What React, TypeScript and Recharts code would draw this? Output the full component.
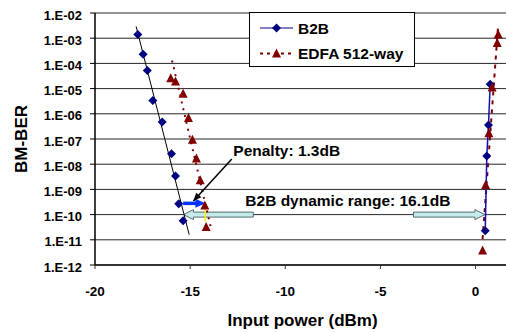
import { CartesianGrid, Line, LineChart, ReferenceLine, XAxis, YAxis } from "recharts";

const X_TICKS = [-20, -15, -10, -5, 0];
const Y_TICKS = [-12, -11, -10, -9, -8, -7, -6, -5, -4, -3, -2];

// measured points, input power (dBm) / BER
const B2B_LOW_POWER = [-17.75, -17.47, -17.25, -16.96, -16.47, -15.98, -15.77, -15.6, -15.37];
const B2B_LOW_BER = [1.4e-3, 2.3e-4, 5.2e-5, 3.4e-6, 4.7e-7, 2.6e-8, 3.4e-9, 2.7e-10, 5.7e-11];
const B2B_HIGH_POWER = [0.51, 0.59, 0.68, 0.77];
const B2B_HIGH_BER = [2.3e-11, 2.1e-8, 3.6e-7, 1.5e-5];
const EDFA_LOW_POWER = [-16.02, -15.77, -15.37, -15.09, -14.88, -14.67, -14.47, -14.23, -14.16];
const EDFA_LOW_BER = [2.6e-5, 1.9e-5, 6.2e-6, 6.8e-7, 9.3e-8, 1.7e-8, 2.3e-9, 2.3e-10, 3.2e-11];
const EDFA_HIGH_POWER = [0.37, 0.53, 0.7, 0.87, 1.14, 1.19];
const EDFA_HIGH_BER = [3.8e-12, 1.5e-9, 1.7e-7, 1.1e-5, 6.5e-4, 1.4e-3];

// trend lines
const B2B_FIT_POWER = [-17.84, -15.05];
const B2B_FIT_BER = [2.95e-3, 1.6e-11];
const EDFA_LOW_FIT_POWER = [-15.95, -13.9];
const EDFA_LOW_FIT_BER = [1.3e-4, 2.8e-11];
const EDFA_HIGH_FIT_POWER = [0.37, 1.19];
const EDFA_HIGH_FIT_BER = [1.07e-11, 3.5e-3];

// annotations
const PENALTY_TEXT = "Penalty: 1.3dB";
const PENALTY_ARROW_POWER = [-15.37, -14.2];
const PENALTY_ARROW_BER = 2.8e-10;
const POINTER_POWER = [-12.81, -14.83];
const POINTER_BER = [1.6e-8, 3.5e-10];
const MARK_POWER = -14.2;
const MARK_BER = [1.9e-10, 5.2e-11];
const RANGE_TEXT = "B2B dynamic range: 16.1dB";
const RANGE_BER = 1e-10;
const RANGE_LEFT_POWER = [-11.68, -15.35];
const RANGE_RIGHT_POWER = [-3.26, 0.49];
const RANGE_TEXT_POWER = -12.1;

const SERIES_NAMES = ["B2B", "EDFA 512-way"];

const NAVY = "#000080";
const MAROON = "#800000";
const FONT = "'Liberation Sans', Arial, sans-serif";

const toPoints = (xs: number[], bers: number[]) =>
  xs.map((x, i) => ({ x, y: Math.log10(bers[i]) }));

const b2bLow = toPoints(B2B_LOW_POWER, B2B_LOW_BER);
const b2bHigh = toPoints(B2B_HIGH_POWER, B2B_HIGH_BER);
const edfaLow = toPoints(EDFA_LOW_POWER, EDFA_LOW_BER);
const edfaHigh = toPoints(EDFA_HIGH_POWER, EDFA_HIGH_BER);
const b2bFit = toPoints(B2B_FIT_POWER, B2B_FIT_BER);
const edfaLowFit = toPoints(EDFA_LOW_FIT_POWER, EDFA_LOW_FIT_BER);
const edfaHighFit = toPoints(EDFA_HIGH_FIT_POWER, EDFA_HIGH_FIT_BER);

const lg = Math.log10;

function Diamond(props: any) {
  const { cx, cy, index } = props;
  if (cx == null || cy == null) return <g key={index} />;
  const r = 4.5;
  return (
    <path
      key={index}
      d={`M${cx},${cy - r}L${cx + r},${cy}L${cx},${cy + r}L${cx - r},${cy}Z`}
      fill={NAVY}
    />
  );
}

function Triangle(props: any) {
  const { cx, cy, index } = props;
  if (cx == null || cy == null) return <g key={index} />;
  return (
    <path
      key={index}
      d={`M${cx},${cy - 5}L${cx + 4.5},${cy + 4}L${cx - 4.5},${cy + 4}Z`}
      fill={MAROON}
    />
  );
}

function arrowHead(x1: number, y1: number, x2: number, y2: number, len: number, half: number) {
  const a = Math.atan2(y2 - y1, x2 - x1);
  const bx = x2 - len * Math.cos(a);
  const by = y2 - len * Math.sin(a);
  const px = -Math.sin(a) * half;
  const py = Math.cos(a) * half;
  return `${x2},${y2} ${bx + px},${by + py} ${bx - px},${by - py}`;
}

// block arrow from (x1,y) pointing to (x2,y)
function blockArrow(x1: number, x2: number, y: number) {
  const dir = Math.sign(x2 - x1);
  const head = 10;
  const hx = x2 - dir * head;
  const s = 2.5;
  const h = 5;
  return `${x1},${y - s} ${hx},${y - s} ${hx},${y - h} ${x2},${y} ${hx},${y + h} ${hx},${y + s} ${x1},${y + s}`;
}

const PenaltyArrow = (p: any) => (
  <g>
    <line x1={p.x1} y1={p.y1} x2={p.x2 - 8} y2={p.y2} stroke="#0033ff" strokeWidth={3.5} />
    <polygon points={arrowHead(p.x1, p.y1, p.x2, p.y2, 10, 4.5)} fill="#0033ff" />
  </g>
);

const Pointer = (p: any) => (
  <g>
    <text x={p.x1 + 1.5} y={p.y1 - 2.6} fontFamily={FONT} fontWeight="bold" fontSize={15.5} fill="#000">
      {PENALTY_TEXT}
    </text>
    <line x1={p.x1} y1={p.y1} x2={p.x2} y2={p.y2} stroke="#000" strokeWidth={1.5} />
    <polygon points={arrowHead(p.x1, p.y1, p.x2, p.y2, 8, 3.5)} fill="#000" />
  </g>
);

const RangeArrow = (p: any) => (
  <polygon points={blockArrow(p.x1, p.x2, p.y1)} fill="#c4ecec" stroke="#5a6a6a" strokeWidth={1} />
);

const RangeText = (p: any) => (
  <text x={p.x1} y={p.y1 - 8.5} fontFamily={FONT} fontWeight="bold" fontSize={15.5} fill="#000">
    {RANGE_TEXT}
  </text>
);

const YTick = (p: any) => (
  <text x={p.x} y={p.y + 2} textAnchor="end" dominantBaseline="central" fontFamily={FONT} fontWeight="bold" fontSize={13} fill="#000">
    {`1.E-${String(-p.payload.value).padStart(2, "0")}`}
  </text>
);

const XTick = (p: any) => (
  <text x={p.x} y={p.y + 25} textAnchor="middle" fontFamily={FONT} fontWeight="bold" fontSize={13.5} fill="#000">
    {p.payload.value}
  </text>
);

function LegendBox() {
  return (
    <svg width={166} height={55} style={{ position: "absolute", left: 249, top: 12 }}>
      <rect x={0.5} y={0.5} width={165} height={54} fill="#fff" stroke="#000" />
      <line x1={11} x2={44} y1={16} y2={16} stroke={NAVY} />
      <Diamond cx={27.5} cy={16} index={0} />
      <text x={49} y={21.5} fontFamily={FONT} fontWeight="bold" fontSize={15.5}>{SERIES_NAMES[0]}</text>
      <line x1={11} x2={44} y1={41.5} y2={41.5} stroke={MAROON} strokeWidth={2} strokeDasharray="3 4" />
      <Triangle cx={27.5} cy={41.5} index={1} />
      <text x={49} y={47} fontFamily={FONT} fontWeight="bold" fontSize={15.5}>{SERIES_NAMES[1]}</text>
    </svg>
  );
}

export default function App() {
  return (
    <div style={{ position: "absolute", left: 0, top: 0, width: 506, height: 332, background: "#fff" }}>
      <LineChart width={506} height={332} margin={{ top: 13, right: 0, bottom: 0, left: 0 }}>
        <CartesianGrid vertical={false} stroke="#000" strokeOpacity={0.85} />
        <XAxis
          type="number"
          dataKey="x"
          domain={[-20, 1.6]}
          ticks={X_TICKS}
          allowDataOverflow
          height={67}
          tickSize={4}
          tickMargin={2}
          tick={<XTick />}
          axisLine={{ stroke: "#333", strokeWidth: 2 }}
          tickLine={{ stroke: "#333" }}
          label={{
            value: "Input power (dBm)",
            content: ({ viewBox }: any) => (
              <text x={viewBox.x + viewBox.width / 2 + 2} y={viewBox.y + 61} textAnchor="middle" fontFamily={FONT} fontWeight="bold" fontSize={17}>
                Input power (dBm)
              </text>
            ),
          }}
        />
        <YAxis
          type="number"
          dataKey="y"
          domain={[-12, -2]}
          ticks={Y_TICKS}
          allowDataOverflow
          width={95}
          tickSize={5}
          tickMargin={8}
          tick={<YTick />}
          axisLine={{ stroke: "#000", strokeWidth: 1.5 }}
          tickLine={{ stroke: "#000" }}
          label={{
            value: "BM-BER",
            content: ({ viewBox }: any) => (
              <text
                x={21}
                y={viewBox.y + viewBox.height / 2}
                transform={`rotate(-90 21 ${viewBox.y + viewBox.height / 2})`}
                textAnchor="middle"
                dominantBaseline="central"
                fontFamily={FONT}
                fontWeight="bold"
                fontSize={17}
              >
                BM-BER
              </text>
            ),
          }}
        />

        <ReferenceLine
          segment={[{ x: RANGE_LEFT_POWER[0], y: lg(RANGE_BER) }, { x: RANGE_LEFT_POWER[1], y: lg(RANGE_BER) }]}
          shape={RangeArrow}
        />
        <ReferenceLine
          segment={[{ x: RANGE_RIGHT_POWER[0], y: lg(RANGE_BER) }, { x: RANGE_RIGHT_POWER[1], y: lg(RANGE_BER) }]}
          shape={RangeArrow}
        />
        <ReferenceLine
          segment={[{ x: RANGE_TEXT_POWER, y: lg(RANGE_BER) }, { x: RANGE_TEXT_POWER + 1, y: lg(RANGE_BER) }]}
          shape={RangeText}
        />
        <ReferenceLine
          segment={[{ x: MARK_POWER, y: lg(MARK_BER[0]) }, { x: MARK_POWER, y: lg(MARK_BER[1]) }]}
          stroke="#ffee00"
          strokeWidth={1.5}
        />

        <Line data={b2bFit} dataKey="y" stroke="#000" strokeWidth={1} dot={false} activeDot={false} isAnimationActive={false} />
        <Line data={edfaLowFit} dataKey="y" stroke={MAROON} strokeWidth={2} strokeDasharray="2 5" dot={false} activeDot={false} isAnimationActive={false} />
        <Line data={edfaHighFit} dataKey="y" stroke={MAROON} strokeWidth={2} strokeDasharray="4 5" dot={false} activeDot={false} isAnimationActive={false} />
        <Line data={b2bHigh} dataKey="y" stroke="#1010b0" strokeWidth={1.5} dot={<Diamond />} activeDot={false} isAnimationActive={false} />
        <Line data={b2bLow} dataKey="y" stroke="none" dot={<Diamond />} activeDot={false} isAnimationActive={false} />
        <Line data={edfaLow} dataKey="y" stroke="none" dot={<Triangle />} activeDot={false} isAnimationActive={false} />
        <Line data={edfaHigh} dataKey="y" stroke="none" dot={<Triangle />} activeDot={false} isAnimationActive={false} />

        <ReferenceLine
          segment={[{ x: PENALTY_ARROW_POWER[0], y: lg(PENALTY_ARROW_BER) }, { x: PENALTY_ARROW_POWER[1], y: lg(PENALTY_ARROW_BER) }]}
          shape={PenaltyArrow}
        />
        <ReferenceLine
          segment={[{ x: POINTER_POWER[0], y: lg(POINTER_BER[0]) }, { x: POINTER_POWER[1], y: lg(POINTER_BER[1]) }]}
          shape={Pointer}
        />
      </LineChart>
      <LegendBox />
    </div>
  );
}
